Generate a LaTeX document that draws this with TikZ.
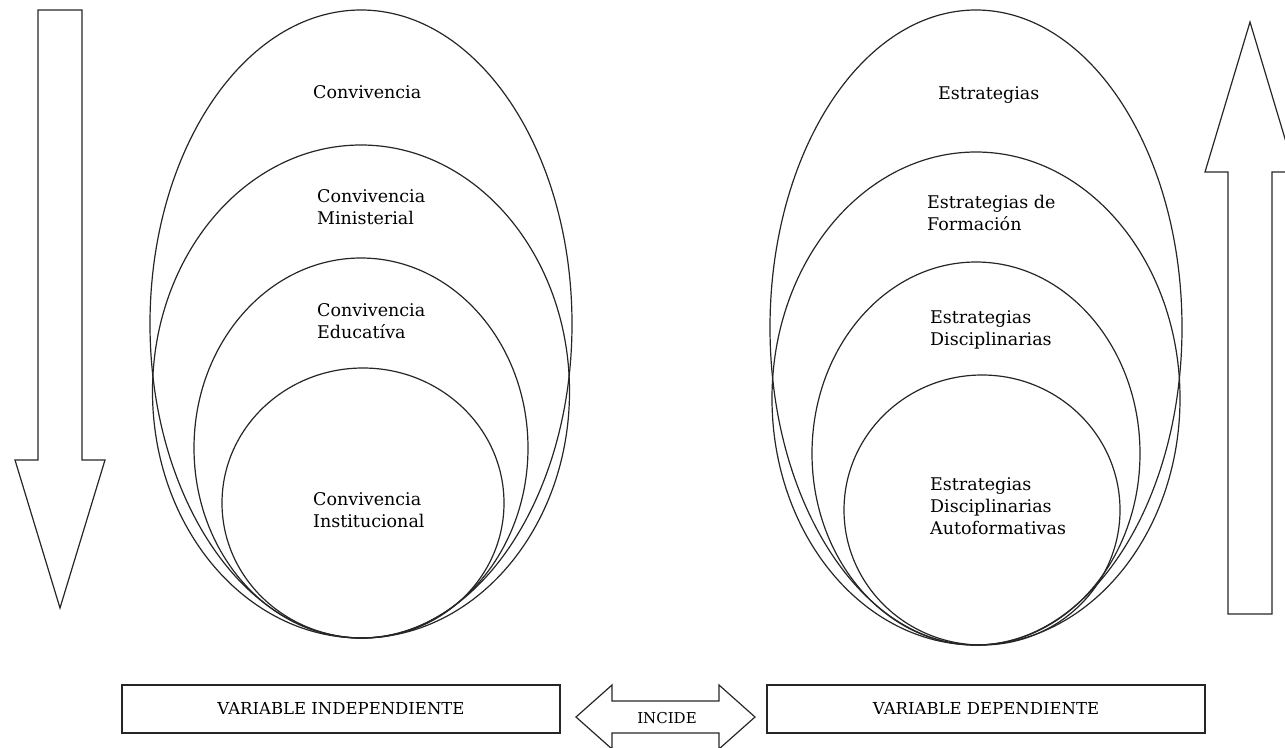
\documentclass[tikz,border=0pt]{standalone}
\usepackage{fontspec}
\setmainfont{DejaVu Serif}
\usetikzlibrary{shapes.geometric, positioning}
\tikzset{
  capa/.style={
    ellipse, draw=black!85, line width=1.2pt, inner sep=0pt
  },
  texto/.style={
    align=left, anchor=west, inner sep=0pt,
    font=\fontsize{17.5}{22}\selectfont
  },
  caja/.style={
    rectangle, draw=black!85, line width=1.2pt, minimum width=438pt, minimum height=48pt,
    text centered, font=\fontsize{16.5}{20}\selectfont
  },
  flecha/.style={
    draw=black!85, line width=1.2pt, line join=miter
  }
}

\begin{document}
\begin{tikzpicture}[x=1pt, y=-1pt]
\useasboundingbox (0,0) rectangle (1285,747);
\clip (0,0) rectangle (1285,747);

% variable independiente
\node[capa, minimum width=422pt, minimum height=628pt] (conv) at (361,324) {};
\node[capa, minimum width=417pt, minimum height=493pt] (minis) at (361,391.5) {};
\node[capa, minimum width=334pt, minimum height=380pt] (educ) at (361,448) {};
\node[capa, minimum width=282pt, minimum height=270pt] (inst) at (363,503) {};
\node[texto] (tconv) at (313,92) {Convivencia};
\node[texto] (tminis) at (317,207) {Convivencia\\Ministerial};
\node[texto] (teduc) at (317,321) {Convivencia\\Educatíva};
\node[texto] (tinst) at (313,510) {Convivencia\\Institucional};

% variable dependiente
\node[capa, minimum width=412pt, minimum height=635pt] (estr) at (976,327.5) {};
\node[capa, minimum width=408pt, minimum height=493pt] (form) at (976,398.5) {};
\node[capa, minimum width=328pt, minimum height=383pt] (disc) at (976,453.5) {};
\node[capa, minimum width=276pt, minimum height=270pt] (autof) at (982,510) {};
\node[texto] (testr) at (938,95) {Estrategias};
\node[texto] (tform) at (927,213) {Estrategias de\\Formación};
\node[texto] (tdisc) at (930,330) {Estrategias\\Disciplinarias};
\node[texto] (tautof) at (930,506) {Estrategias\\Disciplinarias\\Autoformativas};

% flechas laterales
\draw[flecha] (38,10) -- (82,10) -- (82,460) -- (105,460) -- (60,608) -- (15,460) -- (38,460) -- cycle;
\draw[flecha] (1228,614) -- (1272,614) -- (1272,172) -- (1295,172) -- (1250,22) -- (1205,172) -- (1228,172) -- cycle;

% cajas inferiores
\node[caja] (indep) at (341,709) {VARIABLE INDEPENDIENTE};
\node[caja] (dep) at (986,709) {VARIABLE DEPENDIENTE};
\draw[flecha] (576,717) -- (612,685) -- (612,701) -- (719,701) -- (719,685) -- (755,717)
  -- (719,749) -- (719,733) -- (612,733) -- (612,749) -- cycle;
\node[font=\fontsize{15}{18}\selectfont, inner sep=0pt] (incide) at (667,718) {INCIDE};
\end{tikzpicture}
\end{document}
